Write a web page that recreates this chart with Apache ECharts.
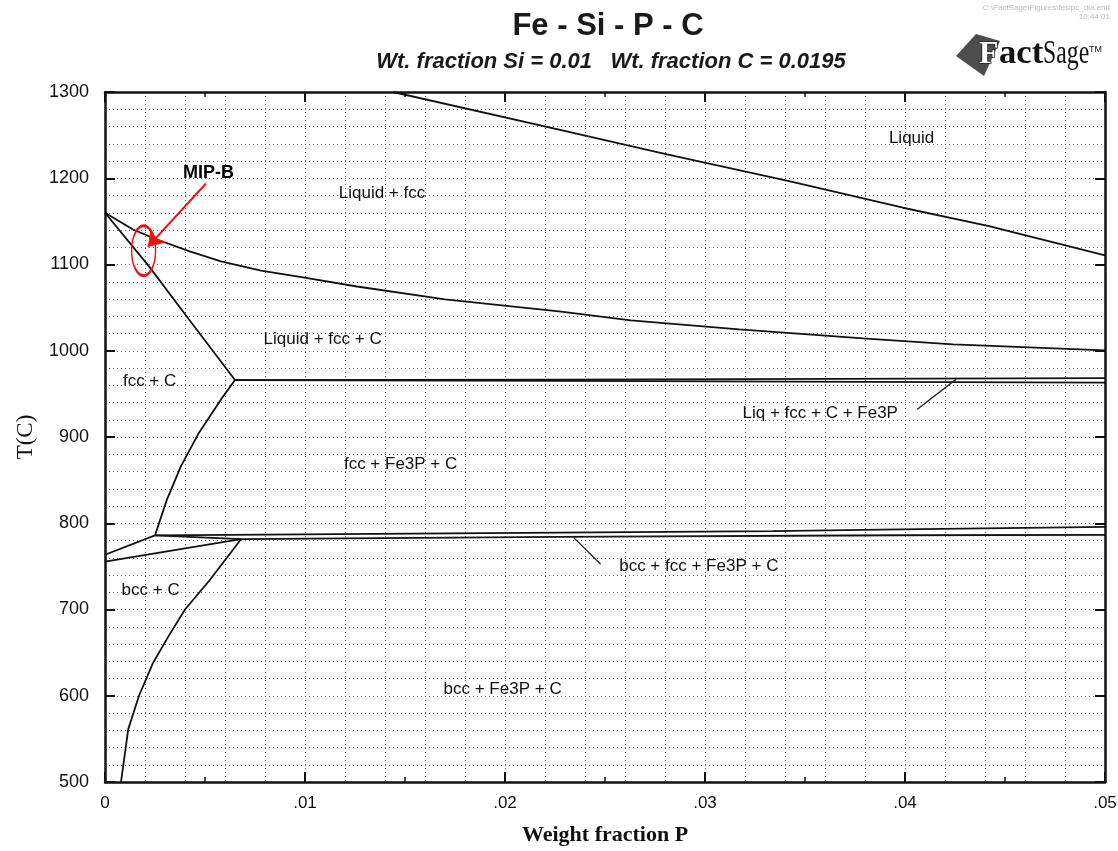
<!DOCTYPE html>
<html>
<head>
<meta charset="utf-8">
<script src="https://cdn.jsdelivr.net/npm/echarts@6/dist/echarts.min.js"></script>
<style>
  html, body { margin: 0; padding: 0; background: #fff; }
  #main { width: 1118px; height: 851px; }
</style>
</head>
<body>
<div id="main"></div>
<script>
"use strict";
// phase boundaries, [weight fraction P, T(C)]
const liquidus = [[0.0144,1300],[0.0227,1256.5],[0.0281,1227.6],[0.0342,1196.6],[0.0399,1165.8],[0.0442,1144.5],[0.05,1110.5]];
const liqFccLower = [[0,1160],[0.0014,1140.6],[0.0026,1129],[0.0042,1115.5],[0.0058,1103.5],[0.0078,1093],[0.0099,1085],[0.0126,1074.5],[0.017,1059.5],[0.0227,1045.6],[0.0263,1035.2],[0.0317,1024.7],[0.0379,1014.3],[0.0424,1007.3],[0.05,1000.4]];
const fccCBoundary = [[0,1160],[0.0022,1097.8],[0.0042,1036.3],[0.0065,966]];
const eutecticHigh = [[0.0065,966],[0.0227,966.5],[0.05,968.3]];
const eutecticLow = [[0.0065,966],[0.0227,965],[0.05,963]];
const fccFe3PBoundary = [[0.0065,966],[0.0058,943.6],[0.0047,905],[0.0038,866.3],[0.0031,827.7],[0.0025,786]];
const bccFccUpper = [[0,763.5],[0.0025,786]];
const bccFccLower = [[0,755.5],[0.0068,781.5]];
const eutectoidHigh = [[0.0025,786],[0.0227,789.2],[0.0334,790.8],[0.0388,792.6],[0.05,795.8]];
const eutectoidLow = [[0.0025,786],[0.0068,781.5],[0.0227,784.3],[0.0397,786.1],[0.05,786.6]];
const bccFe3PBoundary = [[0.0068,781.5],[0.0052,733],[0.004,700],[0.0032,670],[0.0024,638],[0.0017,600],[0.00116,561],[0.0008,500]];

// leader lines for thin regions
const leaderLiq = [[0.0406,932],[0.04255,966.8]];
const leaderBcc = [[0.02344,783.3],[0.02478,752.4]];

// region names
const regionLabels = [
  [0.04033,1246,'Liquid'],
  [0.01385,1183,'Liquid + fcc'],
  [0.01088,1013.7,'Liquid + fcc + C'],
  [0.00223,964.5,'fcc + C'],
  [0.01478,868.3,'fcc + Fe3P + C'],
  [0.03576,927.4,'Liq + fcc + C + Fe3P'],
  [0.02969,749.5,'bcc + fcc + Fe3P + C'],
  [0.00228,722.2,'bcc + C'],
  [0.01988,607.3,'bcc + Fe3P + C']
];

// MIP-B annotation
const mipText = [[0.00518,1205.5,'MIP-B']];
const mipEllipse = [[0.00193,1116]];
const mipArrow = [[0.00505,1193.9],[0.00214,1120.4]];

const xTicks = [0, 0.05];
const yTicks = [500, 1300];

const myChart = echarts.init(document.getElementById('main'), null, {renderer: 'canvas'});

function boundary(data, name) {
  return {
    name: name, type: 'line', data: data, xAxisIndex: 0, yAxisIndex: 0,
    showSymbol: false, symbol: 'none', silent: true,
    lineStyle: {color: '#111', width: 1.8}, z: 4
  };
}
function leader(data) {
  return {
    type: 'line', data: data, xAxisIndex: 0, yAxisIndex: 0,
    showSymbol: false, symbol: 'none', silent: true,
    lineStyle: {color: '#222', width: 1.3}, z: 4
  };
}

const frameLine = {show: true, onZero: false, lineStyle: {color: '#111', width: 2.5}};
const gridDots = {show: true, lineStyle: {color: '#666', width: 1, type: [1, 3]}};

const option = {
  animation: false,
  backgroundColor: '#fff',
  title: [
    {text: 'Fe - Si - P - C', left: 603, top: 6, textAlign: 'center',
     textStyle: {fontFamily: 'Liberation Sans', fontWeight: 'bold', fontSize: 31, color: '#1a1a1a'}},
    {text: 'Wt. fraction Si = 0.01   Wt. fraction C = 0.0195', left: 606, top: 46, textAlign: 'center',
     textStyle: {fontFamily: 'Liberation Sans', fontWeight: 'bold', fontStyle: 'italic', fontSize: 22, color: '#1a1a1a'}}
  ],
  grid: {left: 105, top: 92, right: 13, bottom: 69, outerBoundsMode: 'none', containLabel: false},
  xAxis: [
    {
      type: 'value', min: xTicks[0], max: xTicks[1], interval: 0.01, position: 'bottom',
      axisLine: frameLine,
      axisTick: {show: true, inside: true, length: 10, lineStyle: {color: '#111', width: 2}},
      minorTick: {show: true, splitNumber: 2, length: 5, lineStyle: {color: '#111', width: 1.5}},
      axisLabel: {
        fontFamily: 'Liberation Sans', fontSize: 17, color: '#111', margin: 13,
        formatter: v => v === 0 ? '0' : v.toFixed(2).replace(/^0/, '')
      },
      splitLine: {show: false},
      name: 'Weight fraction P', nameLocation: 'middle', nameGap: 42,
      nameTextStyle: {fontFamily: 'Liberation Serif', fontWeight: 'bold', fontSize: 22, color: '#111'}
    },
    {
      type: 'value', min: xTicks[0], max: xTicks[1], interval: 0.01, position: 'top',
      axisLine: frameLine,
      axisTick: {show: true, inside: true, length: 10, lineStyle: {color: '#111', width: 2}},
      minorTick: {show: true, splitNumber: 2, length: 5, lineStyle: {color: '#111', width: 1.5}},
      axisLabel: {show: false}, splitLine: {show: false}
    },
    {
      type: 'value', min: xTicks[0], max: xTicks[1], interval: 0.002, position: 'bottom',
      axisLine: {show: false}, axisTick: {show: false}, axisLabel: {show: false},
      splitLine: gridDots
    }
  ],
  yAxis: [
    {
      type: 'value', min: yTicks[0], max: yTicks[1], interval: 100, position: 'left',
      axisLine: frameLine,
      axisTick: {show: true, inside: true, length: 10, lineStyle: {color: '#111', width: 2}},
      axisLabel: {fontFamily: 'Liberation Sans', fontSize: 18, color: '#111', margin: 16,
        formatter: v => String(v)},
      splitLine: {show: false},
      name: 'T(C)', nameLocation: 'middle', nameGap: 68, nameRotate: 90,
      nameTextStyle: {fontFamily: 'Liberation Serif', fontSize: 23, color: '#111'}
    },
    {
      type: 'value', min: yTicks[0], max: yTicks[1], interval: 100, position: 'right',
      axisLine: frameLine,
      axisTick: {show: true, inside: true, length: 10, lineStyle: {color: '#111', width: 2}},
      axisLabel: {show: false}, splitLine: {show: false}
    },
    {
      type: 'value', min: yTicks[0], max: yTicks[1], interval: 20, position: 'left',
      axisLine: {show: false}, axisTick: {show: false}, axisLabel: {show: false},
      splitLine: gridDots
    }
  ],
  series: [
    boundary(liquidus, 'liquidus'),
    boundary(liqFccLower, 'liqFccLower'),
    boundary(fccCBoundary, 'fccC'),
    boundary(eutecticHigh, 'eutecticHigh'),
    boundary(eutecticLow, 'eutecticLow'),
    boundary(fccFe3PBoundary, 'fccFe3P'),
    boundary(bccFccUpper, 'bccFccUpper'),
    boundary(bccFccLower, 'bccFccLower'),
    boundary(eutectoidHigh, 'eutectoidHigh'),
    boundary(eutectoidLow, 'eutectoidLow'),
    boundary(bccFe3PBoundary, 'bccFe3P'),
    leader(leaderLiq),
    leader(leaderBcc),
    {
      type: 'scatter', data: regionLabels, xAxisIndex: 0, yAxisIndex: 0, silent: true,
      symbolSize: 1, itemStyle: {color: 'rgba(0,0,0,0)', opacity: 1}, z: 5,
      label: {show: true, position: 'inside', formatter: p => p.data[2], opacity: 1,
        fontFamily: 'Liberation Sans', fontSize: 17, color: '#111'}
    },
    {
      type: 'scatter', data: mipText, xAxisIndex: 0, yAxisIndex: 0, silent: true,
      symbolSize: 1, itemStyle: {color: 'rgba(0,0,0,0)', opacity: 1}, z: 6,
      label: {show: true, position: 'inside', formatter: p => p.data[2], opacity: 1,
        fontFamily: 'Liberation Sans', fontWeight: 'bold', fontSize: 18, color: '#000'}
    },
    {
      type: 'scatter', data: mipEllipse, xAxisIndex: 0, yAxisIndex: 0, silent: true,
      symbol: 'circle', symbolSize: [24, 50], z: 6,
      itemStyle: {color: 'rgba(0,0,0,0)', borderColor: '#ee1111', borderWidth: 2, opacity: 1}
    },
    {
      type: 'line', data: [], xAxisIndex: 0, yAxisIndex: 0, silent: true, z: 7,
      markLine: {
        silent: true, symbol: ['none', 'arrow'], symbolSize: 16,
        label: {show: false},
        itemStyle: {color: '#ee1111'},
        lineStyle: {color: '#ee1111', width: 2, type: 'solid'},
        data: [[{coord: mipArrow[0]}, {coord: mipArrow[1]}]]
      }
    }
  ],
  graphic: [
    {type: 'text', x: 1110, y: 4, silent: true,
     style: {text: 'C:\\FactSage\\Figures\\fesipc_dia.emf', fill: '#bbb', fontSize: 8, fontFamily: 'Liberation Sans', textAlign: 'right'}},
    {type: 'text', x: 1110, y: 13, silent: true,
     style: {text: '10:44:01', fill: '#bbb', fontSize: 8, fontFamily: 'Liberation Sans', textAlign: 'right'}},
    {type: 'polygon', silent: true, shape: {points: [[956, 56], [976, 34], [1000, 41], [984, 76]]},
     style: {fill: '#4d4d4d'}},
    {type: 'text', x: 979, y: 71, silent: true,
     style: {text: 'F', fill: '#fff', stroke: '#222', lineWidth: 1.5, fontSize: 32, fontWeight: 'bold', fontFamily: 'Liberation Serif', textVerticalAlign: 'bottom'}},
    {type: 'text', x: 999, y: 71, scaleX: 1.05, silent: true,
     style: {text: 'act', fill: '#111', fontSize: 33, fontWeight: 'bold', fontFamily: 'Liberation Serif', textVerticalAlign: 'bottom'}},
    {type: 'text', x: 1043, y: 71, scaleX: 0.72, silent: true,
     style: {text: 'Sage', fill: '#111', fontSize: 33, fontFamily: 'Liberation Serif', textVerticalAlign: 'bottom'}},
    {type: 'text', x: 1089, y: 45, silent: true,
     style: {text: 'TM', fill: '#111', fontSize: 9, fontFamily: 'Liberation Sans', textVerticalAlign: 'top'}}
  ]
};
myChart.setOption(option);
</script>
</body>
</html>
